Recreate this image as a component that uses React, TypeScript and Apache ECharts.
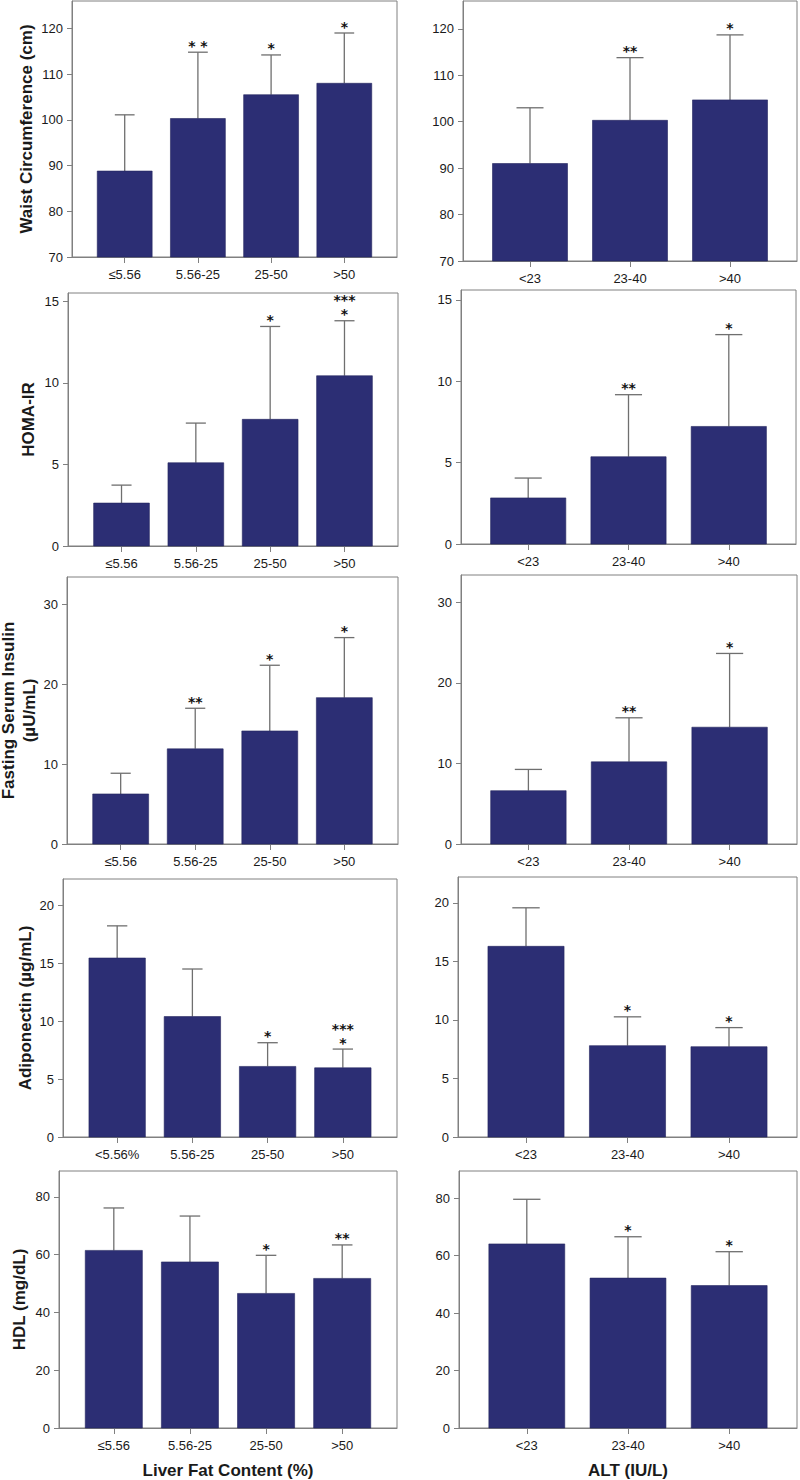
import React, { useEffect, useRef } from "react";
import * as echarts from "echarts";

// ---------- categories ----------
const liverCats = ["≤5.56", "5.56-25", "25-50", ">50"];
const liverCatsAdipo = ["<5.56%", "5.56-25", "25-50", ">50"];
const altCats = ["<23", "23-40", ">40"];

// ---------- y tick labels ----------
const waistTicks = [70, 80, 90, 100, 110, 120];
const homaTicks = [0, 5, 10, 15];
const insulinTicks = [0, 10, 20, 30];
const adipoTicks = [0, 5, 10, 15, 20];
const hdlTicks = [0, 20, 40, 60, 80];

// ---------- series values (mean, SD, significance marks) ----------
const waistLiverMean = [88.8, 100.3, 105.5, 108.0];
const waistLiverSD = [12.3, 14.5, 8.7, 11.0];
const waistLiverStars = ["", "* *", "*", "*"];

const waistAltMean = [91.0, 100.3, 104.7];
const waistAltSD = [12.0, 13.5, 14.0];
const waistAltStars = ["", "**", "*"];

const homaLiverMean = [2.63, 5.1, 7.76, 10.43];
const homaLiverSD = [1.1, 2.43, 5.69, 3.37];
const homaLiverStars = ["", "", "*", "***\n*"];

const homaAltMean = [2.83, 5.36, 7.22];
const homaAltSD = [1.22, 3.81, 5.64];
const homaAltStars = ["", "**", "*"];

const insulinLiverMean = [6.26, 11.9, 14.14, 18.31];
const insulinLiverSD = [2.59, 5.08, 8.22, 7.51];
const insulinLiverStars = ["", "**", "*", "*"];

const insulinAltMean = [6.62, 10.2, 14.5];
const insulinAltSD = [2.64, 5.47, 9.16];
const insulinAltStars = ["", "**", "*"];

const adipoLiverMean = [15.47, 10.41, 6.1, 5.98];
const adipoLiverSD = [2.78, 4.11, 2.05, 1.62];
const adipoLiverStars = ["", "", "*", "***\n*"];

const adipoAltMean = [16.28, 7.8, 7.71];
const adipoAltSD = [3.29, 2.46, 1.63];
const adipoAltStars = ["", "*", "*"];

const hdlLiverMean = [61.5, 57.5, 46.6, 51.8];
const hdlLiverSD = [14.7, 15.9, 13.2, 11.6];
const hdlLiverStars = ["", "", "*", "**"];

const hdlAltMean = [64.1, 52.2, 49.6];
const hdlAltSD = [15.55, 14.4, 11.8];
const hdlAltStars = ["", "*", "*"];

// ---------- styles / layout ----------
const FONT = '"Liberation Sans", Arial, Helvetica, sans-serif';
const STAR_FONT = '"DejaVu Sans", "Liberation Sans", sans-serif';
const BAR_COLOR = "#2c2e74";
const ERR_COLOR = "#6f6f6f";
const AXIS_COLOR = "#808080";
const TEXT_COLOR = "#1a1a1a";
const BAR_W = 0.75;
const CAP_W = 0.27;

type Panel = {
  cats: string[];
  mean: number[];
  sd: number[];
  stars: string[];
  yMin: number;
  yMax: number;
  yTicks: number[];
  yName: string;
  yNameGap: number;
  yNameLineHeight?: number;
  xName?: string;
  box: [number, number, number, number];
  pad: number;
};

const panels: Panel[] = [
  { cats: liverCats, mean: waistLiverMean, sd: waistLiverSD, stars: waistLiverStars, yMin: 70, yMax: 126, yTicks: waistTicks, yName: "Waist Circumference (cm)", yNameGap: 36, box: [72, 1, 397, 257], pad: 0.72 },
  { cats: altCats, mean: waistAltMean, sd: waistAltSD, stars: waistAltStars, yMin: 70, yMax: 126, yTicks: waistTicks, yName: "", yNameGap: 0, box: [463, 1, 797, 261], pad: 0.67 },
  { cats: liverCats, mean: homaLiverMean, sd: homaLiverSD, stars: homaLiverStars, yMin: 0, yMax: 15.5, yTicks: homaTicks, yName: "HOMA-IR", yNameGap: 30, box: [68, 293, 398, 546], pad: 0.72 },
  { cats: altCats, mean: homaAltMean, sd: homaAltSD, stars: homaAltStars, yMin: 0, yMax: 15.6, yTicks: homaTicks, yName: "", yNameGap: 0, box: [461, 290, 796, 544], pad: 0.67 },
  { cats: liverCats, mean: insulinLiverMean, sd: insulinLiverSD, stars: insulinLiverStars, yMin: 0, yMax: 33.4, yTicks: insulinTicks, yName: "Fasting Serum Insulin\n(µU/mL)", yNameGap: 23, yNameLineHeight: 21, box: [67, 577, 398, 844], pad: 0.72 },
  { cats: altCats, mean: insulinAltMean, sd: insulinAltSD, stars: insulinAltStars, yMin: 0, yMax: 33.4, yTicks: insulinTicks, yName: "", yNameGap: 0, box: [461, 575, 797, 844], pad: 0.67 },
  { cats: liverCatsAdipo, mean: adipoLiverMean, sd: adipoLiverSD, stars: adipoLiverStars, yMin: 0, yMax: 22.3, yTicks: adipoTicks, yName: "Adiponectin (µg/mL)", yNameGap: 25, box: [63, 879, 397, 1137], pad: 0.72 },
  { cats: altCats, mean: adipoAltMean, sd: adipoAltSD, stars: adipoAltStars, yMin: 0, yMax: 22.2, yTicks: adipoTicks, yName: "", yNameGap: 0, box: [458, 877, 797, 1137], pad: 0.67 },
  { cats: liverCats, mean: hdlLiverMean, sd: hdlLiverSD, stars: hdlLiverStars, yMin: 0, yMax: 89, yTicks: hdlTicks, yName: "HDL (mg/dL)", yNameGap: 30, xName: "Liver Fat Content (%)", box: [59, 1171, 397, 1428], pad: 0.72 },
  { cats: altCats, mean: hdlAltMean, sd: hdlAltSD, stars: hdlAltStars, yMin: 0, yMax: 89.5, yTicks: hdlTicks, yName: "", yNameGap: 0, xName: "ALT (IU/L)", box: [459, 1171, 797, 1428], pad: 0.67 },
];

function buildOption() {
  const grid: any[] = [];
  const xAxis: any[] = [];
  const yAxis: any[] = [];
  const series: any[] = [];

  panels.forEach((p, k) => {
    const [l, t, r, b] = p.box;
    grid.push({
      left: l,
      top: t,
      width: r - l,
      height: b - t,
      show: true,
      borderColor: AXIS_COLOR,
      borderWidth: 1,
      backgroundColor: "transparent",
      containLabel: false,
      outerBoundsMode: "none",
    });
    const idxs = p.cats.map((_, i) => i);
    xAxis.push({
      type: "value",
      gridIndex: k,
      position: "bottom",
      min: -p.pad,
      max: p.cats.length - 1 + p.pad,
      splitLine: { show: false },
      axisLine: { show: true, onZero: false, lineStyle: { color: AXIS_COLOR, width: 1 } },
      axisTick: { show: true, length: 6, customValues: idxs, lineStyle: { color: AXIS_COLOR } },
      axisLabel: {
        show: true,
        customValues: idxs,
        formatter: (v: number) => p.cats[Math.round(v)] ?? "",
        color: TEXT_COLOR,
        fontSize: 13,
        fontFamily: FONT,
        margin: 11,
      },
      name: p.xName ?? "",
      nameLocation: "middle",
      nameGap: 34,
      nameTextStyle: { fontSize: 17, fontWeight: "bold", fontFamily: FONT, color: TEXT_COLOR, lineHeight: 17 },
    });
    yAxis.push({
      type: "value",
      gridIndex: k,
      position: "left",
      min: p.yMin,
      max: p.yMax,
      splitLine: { show: false },
      axisLine: { show: true, onZero: false, lineStyle: { color: AXIS_COLOR, width: 1 } },
      axisTick: { show: true, length: 5, customValues: p.yTicks, lineStyle: { color: AXIS_COLOR } },
      axisLabel: {
        show: true,
        customValues: p.yTicks,
        color: TEXT_COLOR,
        fontSize: 13,
        fontFamily: FONT,
        margin: 9,
      },
      name: p.yName,
      nameLocation: "middle",
      nameGap: p.yNameGap,
      nameTextStyle: {
        fontSize: 17,
        fontWeight: "bold",
        fontFamily: FONT,
        color: TEXT_COLOR,
        lineHeight: p.yNameLineHeight ?? 20,
      },
    });
    const yMin = p.yMin;
    const stars = p.stars;
    series.push({
      type: "custom",
      xAxisIndex: k,
      yAxisIndex: k,
      dimensions: ["x", "mean", "sd"],
      encode: { x: 0, y: 1 },
      data: p.mean.map((m, i) => [i, m, p.sd[i]]),
      renderItem: (params: any, api: any) => {
        const i = api.value(0);
        const mean = api.value(1);
        const sd = api.value(2);
        const base = api.coord([i, yMin]);
        const top = api.coord([i, mean]);
        const errTop = api.coord([i, mean + sd]);
        const bw = api.size([BAR_W, 0])[0];
        const cw = api.size([CAP_W, 0])[0];
        const children: any[] = [
          {
            type: "line",
            shape: { x1: top[0], y1: top[1], x2: errTop[0], y2: errTop[1] },
            style: { stroke: ERR_COLOR, lineWidth: 1.3 },
          },
          {
            type: "line",
            shape: { x1: errTop[0] - cw / 2, y1: errTop[1], x2: errTop[0] + cw / 2, y2: errTop[1] },
            style: { stroke: ERR_COLOR, lineWidth: 1.3 },
          },
          {
            type: "rect",
            shape: { x: top[0] - bw / 2, y: top[1], width: bw, height: base[1] - top[1] },
            style: { fill: BAR_COLOR, stroke: "#23255e", lineWidth: 0.6 },
          },
        ];
        const s = stars[params.dataIndex];
        if (s) {
          children.push({
            type: "text",
            x: errTop[0],
            y: errTop[1] + 0.5,
            style: {
              text: s,
              fontSize: 14,
              fontWeight: "bold",
              fontFamily: STAR_FONT,
              fill: "#111",
              align: "center",
              verticalAlign: "bottom",
              lineHeight: 14,
            },
          });
        }
        return { type: "group", children };
      },
    });
  });

  return {
    animation: false,
    backgroundColor: "#ffffff",
    grid,
    xAxis,
    yAxis,
    series,
  };
}

export default function App() {
  const ref = useRef<HTMLDivElement | null>(null);
  useEffect(() => {
    if (!ref.current) return;
    const chart = echarts.init(ref.current, null, { renderer: "svg" });
    chart.setOption(buildOption() as any);
    return () => {
      chart.dispose();
    };
  }, []);
  return (
    <div
      ref={ref}
      style={{ position: "absolute", left: 0, top: 0, width: 800, height: 1480, background: "#fff" }}
    />
  );
}
